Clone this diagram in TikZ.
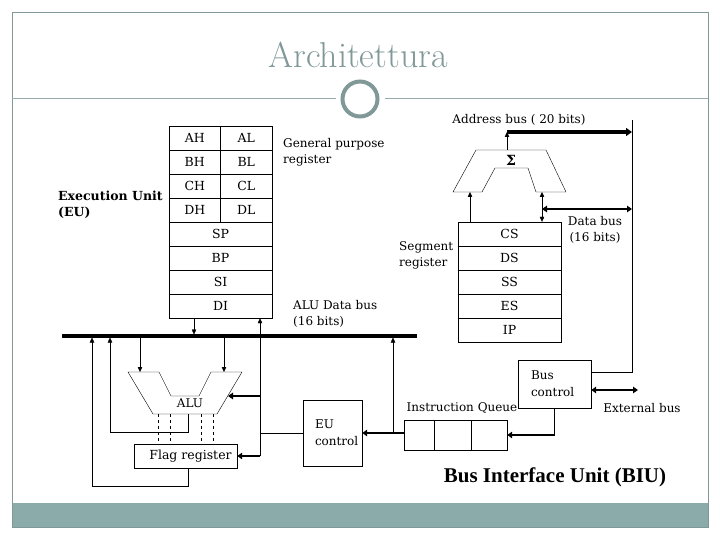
\documentclass[tikz,border=0pt]{standalone}
\usepackage{fontspec}
\newfontfamily\lblfont{DejaVu Serif}
\newfontfamily\biufont{Liberation Serif}
\usetikzlibrary{arrows.meta}
\definecolor{slate}{RGB}{128,152,152}
\definecolor{band}{RGB}{139,171,171}

\begin{document}
\begin{tikzpicture}[x=1pt,y=-1pt,
		every node/.style={inner sep=0pt},
		lbl/.style={font=\lblfont\fontsize{12}{16}\selectfont, align=left},
		reg/.style={draw, minimum height=24pt, font=\lblfont\fontsize{12.5}{14}\selectfont},
		half/.style={reg, minimum width=51.5pt},
		full/.style={reg, minimum width=103pt},
		box/.style={draw, font=\lblfont\fontsize{12}{17}\selectfont, align=left},
		sig/.style={-{Triangle[length=5pt,width=4.5pt]}},
		fat/.style={line width=2.5pt,-{Triangle[length=5pt,width=6.5pt]}},
		both/.style={{Triangle[length=5pt,width=4.5pt]}-{Triangle[length=5pt,width=4.5pt]}}]
		\fill[white] (0,0) rectangle (720,540);
		\useasboundingbox (0,0) rectangle (720,540);
		\fill[band] (12,503) rectangle (708,527);
		\draw[slate] (12,12) rectangle (708,527);

		\node[text=slate, font=\fontsize{36}{40}\selectfont] (title) at (358,55) {Architettura};
		\node[draw=slate, line width=4pt, circle, minimum size=35pt] (ring) at (360,99) {};
		\draw[slate!80, line width=1pt] (12,99) -- ([xshift=-5pt]ring.west)
			([xshift=5pt]ring.east) -- (708,99);

		% execution unit registers
		\foreach \h/\l [count=\i] in {AH/AL,BH/BL,CH/CL,DH/DL}{
			\node[half] (\h) at (194.75,114+24*\i) {\h};
			\node[half] (\l) at (246.25,114+24*\i) {\l};
		}
		\foreach \r [count=\i] in {SP,BP,SI,DI}
			\node[full] (\r) at (220.5,210+24*\i) {\r};
		% segment registers
		\foreach \r [count=\i] in {CS,DS,SS,ES,IP}
			\node[full] (\r) at (509.5,210+24*\i) {\r};

		\node[lbl, anchor=west] (gpr) at (283,152) {General purpose\\register};
		\node[lbl, font=\lblfont\bfseries\fontsize{12.5}{16}\selectfont, anchor=west] (eu) at (58,205) {Execution Unit\\(EU)};
		\node[lbl, anchor=west] (seg) at (399,255) {Segment\\register};
		\node[lbl, anchor=west] (alubus) at (293,314) {ALU Data bus\\(16 bits)};
		\node[lbl, align=center] (dbus) at (595,230) {Data bus\\(16 bits)};
		\node[lbl] (abus) at (519,120) {Address bus ( 20 bits)};

		\coordinate (busL) at (62,336);
		\coordinate (busR) at (417,336);
		\draw[line width=3.5pt] (busL) -- (busR);

		% ALU
		\draw (128,372) -- (159,372) -- (171,396) -- (199,396) -- (211,372) -- (242,372)
			-- (217,414) -- (153,414) -- cycle;
		\node[lbl] (alu) at (190,403) {ALU};
		\node[reg, minimum width=103pt] (flag) at (185.5,456) {\hspace*{10pt}Flag register};
		\foreach \x in {158,170,201,213}
			\draw[dashed] (\x,414) -- (\x,0 |- flag.north);

		\node[box, minimum width=59pt, minimum height=66pt, text width=35pt] (EUc) at (332.5,433) {EU\\control};

		\coordinate (euin) at (194,0);
		\coordinate (ctl) at (260,456);
		\coordinate (aluR) at (228,396);
		\coordinate (ina) at (140,372);
		\coordinate (inb) at (224,372);
		\coordinate (aluout) at (188,414);
		\coordinate (fb) at (110,432);
		\coordinate (fo) at (92,486);
		\draw[sig, shorten >=1.5pt] (DI.south -| euin) -- (busL -| euin);
		\draw[sig] (ctl) -- (DI.south -| ctl);
		\draw[fat] (ctl |- aluR) -- (aluR);
		\draw[fat] (ctl) -- (flag.east);
		\draw (EUc.west) -- (EUc.west -| ctl);
		\draw[sig, shorten <=1.5pt] (busL -| ina) -- (ina);
		\draw[sig, shorten <=1.5pt] (busL -| inb) -- (inb);
		\draw[sig, shorten >=1.5pt] (aluout) |- (fb) -- (busL -| fb);
		\draw[sig, shorten >=1.5pt] (flag.south -| aluout) |- (fo) -- (busL -| fo);

		% bus interface unit
		\draw (476,150) -- (546,150) -- (566,192) -- (536,192) -- (528,168) -- (495,168)
			-- (482,192) -- (453,192) -- cycle;
		\node[font=\lblfont\bfseries\fontsize{14}{16}\selectfont] (sigma) at (511,160) {Σ};

		\node[draw, minimum width=30pt, minimum height=30pt] (q1) at (419,435) {};
		\node[draw, minimum width=37pt, minimum height=30pt] (q2) at (452.5,435) {};
		\node[draw, minimum width=36pt, minimum height=30pt] (q3) at (489,435) {};
		\node[lbl] (iq) at (462,408) {Instruction Queue};
		\node[box, minimum width=73pt, minimum height=48pt, text width=47pt] (BusC) at (554.5,384) {Bus\\control};
		\node[lbl] (ext) at (642,408) {External bus};
		\node[font=\biufont\bfseries\fontsize{21}{24}\selectfont] (biu) at (555,477) {Bus Interface Unit (BIU)};

		\coordinate (qup) at (393,0);
		\coordinate (sigtop) at (507,150);
		\coordinate (sigl) at (470,192);
		\coordinate (sigr) at (542,192);
		\coordinate (abend) at (632,132);
		\coordinate (dend) at (632,209);
		\coordinate (rtop) at (632,120);
		\coordinate (rail) at (632,372);
		\coordinate (extend) at (638,390);
		\draw[fat] (q1.west |- EUc) -- (EUc.east);
		\draw[sig, shorten >=1.5pt] (EUc -| qup) -- (busR -| qup);
		\draw (BusC.south) -- (BusC.south |- q3.east);
		\draw[fat] (BusC.south |- q3.east) -- (q3.east);
		\draw[fat, {Triangle[length=5pt,width=6.5pt]}-{Triangle[length=5pt,width=6.5pt]}] (BusC.east |- extend) -- (extend);
		\draw (BusC.east |- rail) -- (rail) -- (rtop);
		\draw[sig] (sigtop) -- (sigtop |- abend);
		\draw[line width=4pt, -{Triangle[length=6pt,width=8pt]}] (sigtop |- abend) -- (abend);
		\draw[sig] (CS.north -| sigl) -- (sigl);
		\draw[both] (CS.north -| sigr) -- (sigr);
		\draw[line width=2.5pt, {Triangle[length=5pt,width=6.5pt]}-{Triangle[length=5pt,width=6.5pt]}] (sigr |- dend) -- (dend);
	\end{tikzpicture}
\end{document}
